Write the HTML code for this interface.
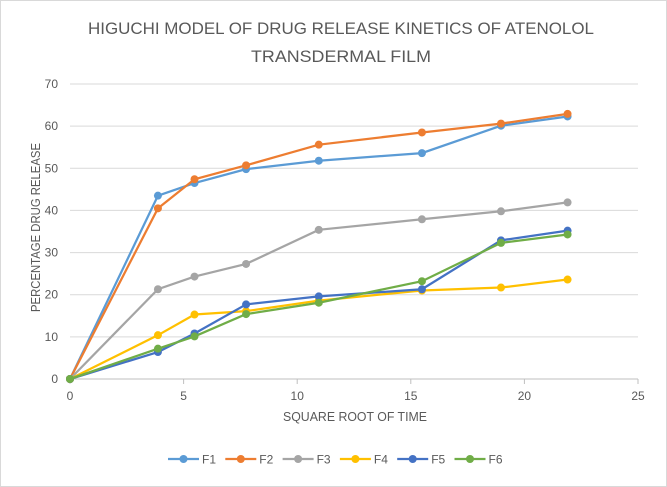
<!DOCTYPE html>
<html><head><meta charset="utf-8"><style>
body{margin:0;background:#fff;}
svg{display:block;font-family:"Liberation Sans",sans-serif;}
</style></head><body>
<svg id="chart" width="667" height="487">
<rect x="0.5" y="0.5" width="666" height="486" fill="#fff" stroke="#D9D9D9"/>
<text x="88" y="34" textLength="506" lengthAdjust="spacingAndGlyphs" font-size="17" fill="#595959">HIGUCHI MODEL OF DRUG RELEASE KINETICS OF ATENOLOL</text>
<text x="251" y="62" textLength="180" lengthAdjust="spacingAndGlyphs" font-size="17" fill="#595959">TRANSDERMAL FILM</text>
<g id="grid"></g><g id="axes"></g><g id="series"></g><g id="legend"></g>
<text x="283" y="421" textLength="144" lengthAdjust="spacingAndGlyphs" font-size="13" fill="#595959">SQUARE ROOT OF TIME</text>
<text transform="translate(40,312) rotate(-90)" textLength="169" lengthAdjust="spacingAndGlyphs" font-size="13" fill="#595959">PERCENTAGE DRUG RELEASE</text>
</svg>
<script>
const xVals=[0,3.87,5.48,7.75,10.95,15.49,18.97,21.9];
const seriesNames=["F1","F2","F3","F4","F5","F6"];
const seriesColors=["#5B9BD5","#ED7D31","#A5A5A5","#FFC000","#4472C4","#70AD47"];
const f1=[0,43.5,46.5,49.8,51.8,53.6,60.1,62.3];
const f2=[0,40.5,47.4,50.7,55.6,58.5,60.6,62.9];
const f3=[0,21.3,24.3,27.3,35.4,37.9,39.8,41.9];
const f4=[0,10.4,15.3,16.1,18.6,21.0,21.7,23.6];
const f5=[0,6.4,10.8,17.7,19.6,21.3,32.9,35.2];
const f6=[0,7.2,10.1,15.4,18.1,23.2,32.3,34.3];
const xTicks=[0,5,10,15,20,25];
const yTicks=[0,10,20,30,40,50,60,70];
const NS="http://www.w3.org/2000/svg";
const X=v=>70+v*(568/25), Y=v=>379-v*(295/70);
function mk(t,a,p){const e=document.createElementNS(NS,t);for(const k in a)e.setAttribute(k,a[k]);p.appendChild(e);return e;}
const grid=document.getElementById('grid'),axes=document.getElementById('axes'),ser=document.getElementById('series'),leg=document.getElementById('legend');
yTicks.forEach(t=>{
 if(t>0){const g=mk('line',{x1:70,x2:638,y1:Y(t),y2:Y(t),stroke:'#D9D9D9'},grid);
 
 }
 const l=mk('text',{x:58,y:Y(t)+4,'text-anchor':'end','font-size':12,fill:'#595959'},axes);l.textContent=t;
 
 
});
const ax=mk('line',{x1:70,x2:638,y1:379,y2:379,stroke:'#BFBFBF'},axes);


xTicks.forEach(t=>{
 const tk=mk('line',{x1:X(t),x2:X(t),y1:379,y2:384,stroke:'#BFBFBF'},axes);
 
 
 const l=mk('text',{x:X(t),y:400,'text-anchor':'middle','font-size':12,fill:'#595959'},axes);l.textContent=t;
 
 
});
[f1,f2,f3,f4,f5,f6].forEach((d,i)=>{
 const c=seriesColors[i];
 const g=mk('g',{},ser);
 
 
 const pl=mk('polyline',{points:d.map((v,j)=>X(xVals[j])+','+Y(v)).join(' '),fill:'none',stroke:c,'stroke-width':2.25},g);
 
 
 d.forEach((v,j)=>{const p=mk('circle',{cx:X(xVals[j]),cy:Y(v),r:4,fill:c},g);
  
  });
 const lx=168+57.3*i, lg=mk('g',{},leg);
 
 
 mk('line',{x1:lx,x2:lx+31,y1:459,y2:459,stroke:c,'stroke-width':2.25},lg);
 mk('circle',{cx:lx+15.5,cy:459,r:4,fill:c},lg);
 const t=mk('text',{x:lx+34,y:463.5,'font-size':12,fill:'#595959'},lg);t.textContent=seriesNames[i];
});
</script>
</body></html>
